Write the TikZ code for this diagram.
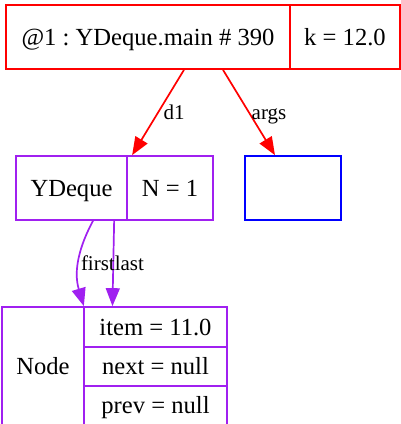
\documentclass[tikz,border=0pt]{standalone}
\usepackage{fontspec}
\setmainfont{Liberation Serif}
\usetikzlibrary{arrows.meta,calc}
\definecolor{gvred}{HTML}{FF0000}
\definecolor{gvpurple}{HTML}{A020F0}
\definecolor{gvblue}{HTML}{0000FF}
\frenchspacing
\tikzset{
  cell/.style={draw, line width=1.7pt, inner sep=0pt, font=\fontsize{24.6}{28}\selectfont, text height=16.3pt, text depth=0pt, minimum height=64pt},
  lbl/.style={inner sep=0pt, font=\fontsize{21}{24}\selectfont, text height=13.9pt, text depth=0pt},
  edge/.style={line width=1.7pt, -{Triangle[length=18pt,width=14pt]}}
}
\begin{document}
\begin{tikzpicture}[x=1pt,y=-1pt]
\useasboundingbox (0,0) rectangle (401,424);
% top frame
\node[cell, gvred, text=black, minimum width=284pt] (topL) at (148,37) {@1 : YDeque.main \# 390};
\node[cell, gvred, text=black, minimum width=110pt] (topR) at (345,37) {k = 12.0};
% YDeque
\node[cell, gvpurple, text=black, minimum width=111pt] (yL) at (71.5,188) {YDeque};
\node[cell, gvpurple, text=black, minimum width=86pt] (yR) at (170,188) {N = 1};
% args (empty)
\node[cell, gvblue, minimum width=96pt] (argsbox) at (293,188) {};
% Node
\node[cell, gvpurple, text=black, minimum width=82pt, minimum height=118pt] (nL) at (43,366) {Node};
\node[cell, gvpurple, text=black, minimum width=143pt, minimum height=40pt] (nItem) at (155.5,327) {item = 11.0};
\node[cell, gvpurple, text=black, minimum width=143pt, minimum height=39pt] (nNext) at (155.5,366.5) {next = null};
\node[cell, gvpurple, text=black, minimum width=143pt, minimum height=39pt] (nPrev) at (155.5,405.5) {prev = null};
% edges
\draw[edge, gvred] ([xshift=36pt]topL.south) -- ([xshift=6pt]yR.north west);
\draw[edge, gvred] ([xshift=75pt]topL.south) -- ([xshift=-18pt]argsbox.north);
\node[lbl] (ld1) at (174,112.5) {d1};
\node[lbl] (largs) at (269,112.5) {args};
\draw[edge, gvpurple] ([xshift=21.5pt]yL.south) .. controls (80,245) and (73,270) .. ([xshift=-1pt]nL.north east);
\draw[edge, gvpurple] ([xshift=-13.7pt]yL.south east) -- ([xshift=29.3pt]nItem.north west);
\node[lbl] (lfl) at (112.5,264) {firstlast};
\end{tikzpicture}
\end{document}
